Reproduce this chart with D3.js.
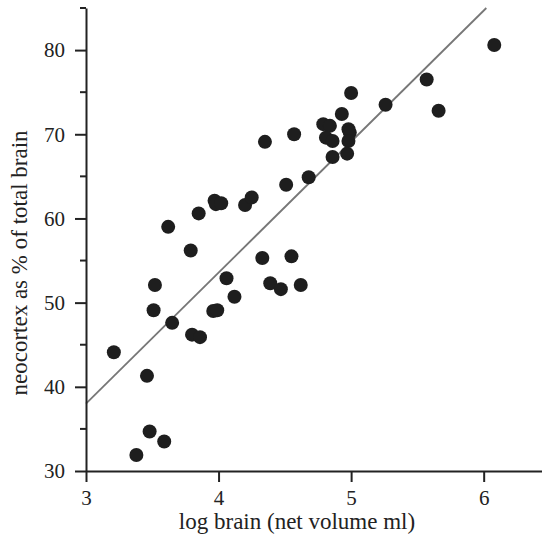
<!DOCTYPE html>
<html>
<head>
<meta charset="utf-8">
<script src="https://cdn.jsdelivr.net/npm/d3@7"></script>
<style>
  body { margin: 0; background: #fff; }
  svg text { font-family: "Liberation Serif", "DejaVu Serif", serif; fill: #222; }
</style>
</head>
<body>
<svg width="542" height="540"></svg>
<script>
// log brain volume (x) and neocortex % (y)
var logBrain = [4.35, 3.62, 3.85, 3.97, 3.98, 4.02, 4.20, 4.25, 3.79, 4.33,
                4.06, 6.08, 5.57, 5.66, 5.00, 5.26, 4.93, 4.79, 4.84, 4.98,
                4.99, 4.81, 4.86, 4.98, 4.97, 4.86, 4.68, 4.57, 4.51, 4.55,
                4.39, 4.47, 4.62, 3.52, 3.51, 3.65, 3.21, 3.80, 3.86, 3.96,
                3.99, 4.12, 3.46, 3.48, 3.59, 3.38];
var neocortex = [69.1, 59.0, 60.6, 62.1, 61.7, 61.8, 61.6, 62.5, 56.2, 55.3,
                 52.9, 80.6, 76.5, 72.8, 74.9, 73.5, 72.4, 71.2, 71.0, 70.6,
                 70.2, 69.6, 69.2, 69.2, 67.7, 67.3, 64.9, 70.0, 64.0, 55.5,
                 52.3, 51.6, 52.1, 52.1, 49.1, 47.6, 44.1, 46.2, 45.9, 49.0,
                 49.1, 50.7, 41.3, 34.7, 33.5, 31.9];

// fitted line end points
var fitX = [3, 6.02];
var fitY = [38.0, 85.0];

var xTicks = [3, 4, 5, 6];
var yTicks = [30, 40, 50, 60, 70, 80];
var yMinor = [35, 45, 55, 65, 75, 85];

var svg = d3.select('svg');
var mLeft = 86, mBottom = 471, mTop = 8, mRight = 542;

var x = d3.scaleLinear().domain([3, 6.44]).range([mLeft, mRight]);
var y = d3.scaleLinear().domain([30, 85]).range([mBottom, mTop]);

// regression line
svg.append('line')
   .attr('x1', x(fitX[0])).attr('y1', y(fitY[0]))
   .attr('x2', x(fitX[1])).attr('y2', y(fitY[1]))
   .attr('stroke', '#777')
   .attr('stroke-width', 1.8);

// points
var pts = d3.zip(logBrain, neocortex);
svg.selectAll('circle.pt')
   .data(pts)
   .enter()
   .append('circle')
   .attr('class', 'pt')
   .attr('cx', function(d) { return x(d[0]); })
   .attr('cy', function(d) { return y(d[1]); })
   .attr('r', 7)
   .attr('fill', '#1e1e1e');

// axes
var xAxis = d3.axisBottom(x).tickValues(xTicks).tickFormat(d3.format('d'))
              .tickSize(11).tickSizeOuter(0).tickPadding(8);
var gx = svg.append('g')
            .attr('transform', 'translate(0,' + mBottom + ')')
            .call(xAxis);

var yAxis = d3.axisLeft(y).tickValues(yTicks).tickFormat(d3.format('d'))
              .tickSize(11).tickSizeOuter(0).tickPadding(10);
var gy = svg.append('g')
            .attr('transform', 'translate(' + mLeft + ',0)')
            .call(yAxis);

gy.selectAll('.minor')
  .data(yMinor)
  .enter()
  .append('line')
  .attr('class', 'minor')
  .attr('x1', -6).attr('x2', 0)
  .attr('y1', function(d) { return y(d); })
  .attr('y2', function(d) { return y(d); })
  .attr('stroke', '#222')
  .attr('stroke-width', 2);

[gx, gy].forEach(function(g) {
  g.select('.domain').attr('stroke', '#222').attr('stroke-width', 2);
  g.selectAll('.tick line').attr('stroke', '#222').attr('stroke-width', 2);
  g.selectAll('.tick text')
   .style('font-family', '"Liberation Serif", serif')
   .style('font-size', '21px')
   .attr('fill', '#222');
});

// axis titles
svg.append('text')
   .attr('x', 297)
   .attr('y', 529)
   .attr('text-anchor', 'middle')
   .style('font-size', '23px')
   .text('log brain (net volume ml)');

svg.append('text')
   .attr('transform', 'translate(27,263) rotate(-90)')
   .attr('text-anchor', 'middle')
   .style('font-size', '23px')
   .text('neocortex as % of total brain');
</script>
</body>
</html>
